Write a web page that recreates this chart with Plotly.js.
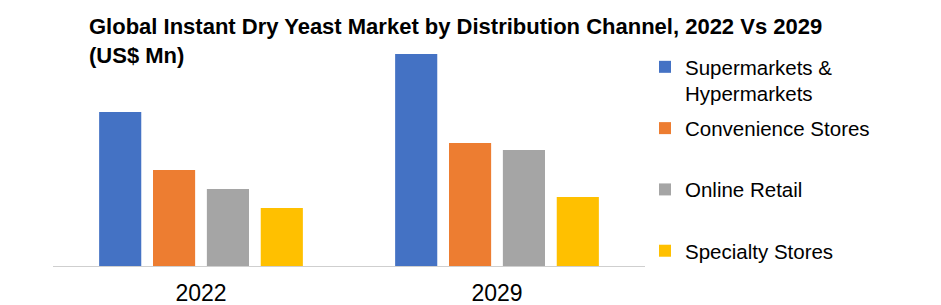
<!DOCTYPE html>
<html>
<head>
<meta charset="utf-8">
<script src="https://cdn.plot.ly/plotly-3.0.1.min.js"></script>
<style>html,body{margin:0;padding:0;background:#fff;}#chart{width:941px;height:305px;}</style>
</head>
<body>
<div id="chart"></div>
<script>
const categories = ['2022', '2029'];
const seriesNames = ['Supermarkets &<br>Hypermarkets', 'Convenience Stores', 'Online Retail', 'Specialty Stores'];
const supermarkets = [154, 212];
const convenience = [96, 123];
const online = [77, 116];
const specialty = [58, 69];
const colors = ['#4472C4', '#ED7D31', '#A5A5A5', '#FFC000'];
const values = [supermarkets, convenience, online, specialty];

const traces = values.map((v, i) => ({
  type: 'bar',
  name: i === 0 ? seriesNames[i] : seriesNames[i] + '<br> ',
  x: categories,
  y: v,
  marker: {color: colors[i]},
  legendgroup: 'g' + i,
  hoverinfo: 'skip'
}));

const layout = {
  width: 941, height: 305,
  margin: {l: 53, r: 284, t: 46, b: 39},
  paper_bgcolor: '#fff', plot_bgcolor: '#fff',
  font: {family: '"Liberation Sans", Arial, sans-serif', color: '#000'},
  title: {
    text: '<b>Global Instant Dry Yeast Market by Distribution Channel, 2022 Vs 2029<br>(US$ Mn)</b>',
    x: 89/941, xanchor: 'left', xref: 'container',
    y: 1 - 34/305, yanchor: 'top', yref: 'container',
    font: {size: 22, family: '"Liberation Sans", Arial, sans-serif', color: '#000'}
  },
  barmode: 'group',
  bargap: 0.272,
  bargroupgap: 0.218,
  xaxis: {
    type: 'category',
    showline: true, linecolor: '#cfcfcf', linewidth: 1,
    ticks: '', tickfont: {size: 23, color: '#000'},
    ticklabelstandoff: 6,
    showgrid: false, zeroline: false
  },
  yaxis: {
    range: [0, 220], visible: false, showgrid: false, zeroline: false
  },
  showlegend: true,
  legend: {
    x: 645/941, xref: 'container', xanchor: 'left',
    y: 1 - 47/305, yref: 'container', yanchor: 'top',
    font: {size: 20.5, color: '#000'},
    valign: 'top',
    tracegroupgap: 5,
    maxheight: 300,
    bgcolor: 'rgba(0,0,0,0)'
  }
};

Plotly.newPlot('chart', traces, layout, {displayModeBar: false, staticPlot: true});
</script>
</body>
</html>
